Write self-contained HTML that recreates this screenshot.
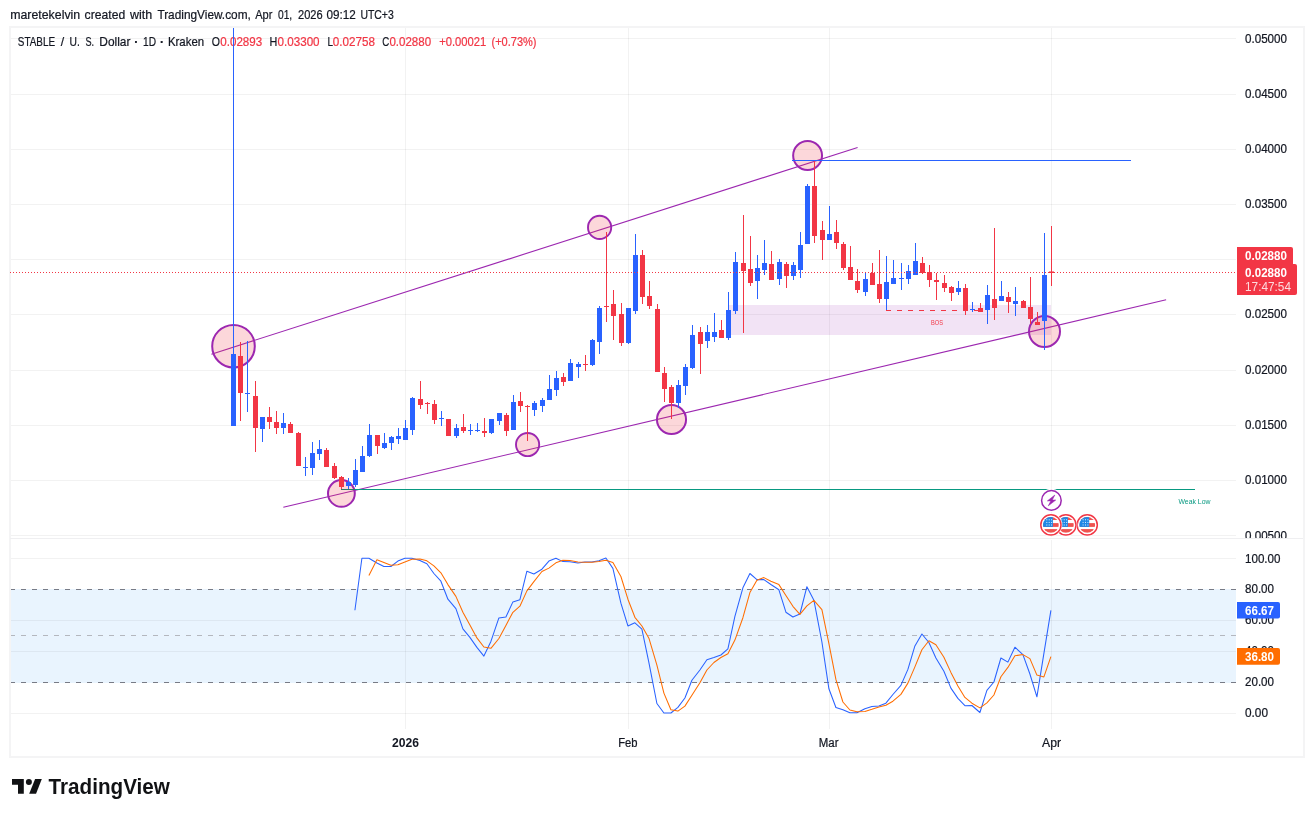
<!DOCTYPE html>
<html lang="en"><head><meta charset="utf-8"><title>STABLE / U. S. Dollar</title>
<style>html,body{margin:0;padding:0;background:#fff}body{width:1314px;height:817px;overflow:hidden;position:relative}svg{position:absolute;left:0;top:0;display:block}text{font-family:'Liberation Sans', Arial, sans-serif;fill:#131722;stroke:#131722;stroke-width:.22px}.ax{font-size:12px}.g{stroke:#000;stroke-opacity:.052;stroke-width:1;shape-rendering:crispEdges}.c{shape-rendering:crispEdges}</style></head><body>
<svg width="1314" height="817" viewBox="0 0 1314 817">
<rect x="0" y="0" width="1314" height="817" fill="#ffffff"/>
<rect class="c" x="10" y="589" width="1226" height="94" fill="#e9f4fe"/>
<line class="g" x1="10" x2="1236" y1="38.5" y2="38.5"/>
<line class="g" x1="10" x2="1236" y1="94.5" y2="94.5"/>
<line class="g" x1="10" x2="1236" y1="149.5" y2="149.5"/>
<line class="g" x1="10" x2="1236" y1="204.5" y2="204.5"/>
<line class="g" x1="10" x2="1236" y1="259.5" y2="259.5"/>
<line class="g" x1="10" x2="1236" y1="314.5" y2="314.5"/>
<line class="g" x1="10" x2="1236" y1="370.5" y2="370.5"/>
<line class="g" x1="10" x2="1236" y1="425.5" y2="425.5"/>
<line class="g" x1="10" x2="1236" y1="480.5" y2="480.5"/>
<line class="g" x1="10" x2="1236" y1="535.5" y2="535.5"/>
<line class="g" x1="405.5" x2="405.5" y1="28" y2="537"/>
<line class="g" x1="405.5" x2="405.5" y1="540" y2="729"/>
<line class="g" x1="628.5" x2="628.5" y1="28" y2="537"/>
<line class="g" x1="628.5" x2="628.5" y1="540" y2="729"/>
<line class="g" x1="829.5" x2="829.5" y1="28" y2="537"/>
<line class="g" x1="829.5" x2="829.5" y1="540" y2="729"/>
<line class="g" x1="1051.5" x2="1051.5" y1="28" y2="537"/>
<line class="g" x1="1051.5" x2="1051.5" y1="540" y2="729"/>
<line class="g" x1="10" x2="1236" y1="558.5" y2="558.5"/>
<line class="g" x1="10" x2="1236" y1="620.5" y2="620.5"/>
<line class="g" x1="10" x2="1236" y1="651.5" y2="651.5"/>
<line class="g" x1="10" x2="1236" y1="713.5" y2="713.5"/>
<line class="c" x1="10" x2="1236" y1="589.5" y2="589.5" stroke="#787b86" stroke-width="1" stroke-dasharray="5 6"/>
<line class="c" x1="10" x2="1236" y1="682.5" y2="682.5" stroke="#787b86" stroke-width="1" stroke-dasharray="5 6"/>
<line class="c" x1="10" x2="1236" y1="635.5" y2="635.5" stroke="#b4b7be" stroke-width="1" stroke-dasharray="5 6"/>
<rect x="10" y="27" width="1294" height="730" fill="none" stroke="#f4f4f5" stroke-width="2"/>
<line class="c" x1="10" x2="1303" y1="538.5" y2="538.5" stroke="#efeff1" stroke-width="1.6"/>
<line x1="211.4" y1="354.15" x2="857.6" y2="147.5" stroke="#9c27b0" stroke-width="1.1"/>
<line x1="283.3" y1="507.3" x2="1166.1" y2="299.8" stroke="#9c27b0" stroke-width="1.1"/>
<rect class="c" x="729" y="305" width="322" height="30" fill="#9c27b0" fill-opacity="0.13"/>
<circle cx="233.5" cy="346.2" r="21.3" fill="#f23645" fill-opacity="0.2" stroke="#9c27b0" stroke-width="2"/>
<circle cx="341.4" cy="493.4" r="13.4" fill="#f23645" fill-opacity="0.2" stroke="#9c27b0" stroke-width="2"/>
<circle cx="527.6" cy="444.55" r="11.6" fill="#f23645" fill-opacity="0.2" stroke="#9c27b0" stroke-width="1.9"/>
<circle cx="599.6" cy="227.4" r="11.6" fill="#f23645" fill-opacity="0.2" stroke="#9c27b0" stroke-width="1.9"/>
<circle cx="671.5" cy="419.5" r="14.55" fill="#f23645" fill-opacity="0.2" stroke="#9c27b0" stroke-width="2"/>
<circle cx="807.6" cy="155.5" r="14.45" fill="#f23645" fill-opacity="0.2" stroke="#9c27b0" stroke-width="2"/>
<circle cx="1044.5" cy="331.5" r="15.5" fill="#f23645" fill-opacity="0.2" stroke="#9c27b0" stroke-width="2"/>
<line class="c" x1="341" x2="1195" y1="489.5" y2="489.5" stroke="#089981" stroke-width="1"/>
<line class="c" x1="341" x2="355" y1="489.5" y2="489.5" stroke="#2b7b66" stroke-width="1"/>
<line class="c" x1="792" x2="1131" y1="160.5" y2="160.5" stroke="#2962ff" stroke-width="1"/>
<line class="c" x1="886" x2="983" y1="310.5" y2="310.5" stroke="#f23645" stroke-width="1" stroke-dasharray="5 6"/>
<text x="931" y="325" style="font-size:6.5px;fill:#f23645;stroke:none" textLength="12" lengthAdjust="spacingAndGlyphs">BOS</text>
<text x="1178.5" y="504" style="font-size:6.5px;fill:#089981;stroke:none" textLength="32" lengthAdjust="spacingAndGlyphs">Weak Low</text>
<text x="10.2" y="18.9" style="font-size:12.6px" textLength="70" lengthAdjust="spacingAndGlyphs">maretekelvin</text>
<text x="84.6" y="18.9" style="font-size:12.6px" textLength="40.6" lengthAdjust="spacingAndGlyphs">created</text>
<text x="130" y="18.9" style="font-size:12.6px" textLength="22.2" lengthAdjust="spacingAndGlyphs">with</text>
<text x="157.4" y="18.9" style="font-size:12.6px" textLength="93.4" lengthAdjust="spacingAndGlyphs">TradingView.com,</text>
<text x="255.2" y="18.9" style="font-size:12.6px" textLength="17.2" lengthAdjust="spacingAndGlyphs">Apr</text>
<text x="278" y="18.9" style="font-size:12.6px" textLength="14.2" lengthAdjust="spacingAndGlyphs">01,</text>
<text x="298" y="18.9" style="font-size:12.6px" textLength="24.6" lengthAdjust="spacingAndGlyphs">2026</text>
<text x="326.5" y="18.9" style="font-size:12.6px" textLength="29.3" lengthAdjust="spacingAndGlyphs">09:12</text>
<text x="360.4" y="18.9" style="font-size:12.6px" textLength="33.4" lengthAdjust="spacingAndGlyphs">UTC+3</text>
<text x="17.8" y="45.9" style="font-size:12.2px" textLength="37.3" lengthAdjust="spacingAndGlyphs">STABLE</text>
<text x="62.5" y="45.9" text-anchor="middle" style="font-size:12.2px">/</text>
<text x="69.5" y="45.9" style="font-size:12.2px" textLength="10.3" lengthAdjust="spacingAndGlyphs">U.</text>
<text x="85.4" y="45.9" style="font-size:12.2px" textLength="8.6" lengthAdjust="spacingAndGlyphs">S.</text>
<text x="99.3" y="45.9" style="font-size:12.2px" textLength="31.1" lengthAdjust="spacingAndGlyphs">Dollar</text>
<text x="136.4" y="45.9" text-anchor="middle" style="font-size:12.2px;font-weight:bold">·</text>
<text x="143" y="45.9" style="font-size:12.2px" textLength="13" lengthAdjust="spacingAndGlyphs">1D</text>
<text x="162" y="45.9" text-anchor="middle" style="font-size:12.2px;font-weight:bold">·</text>
<text x="167.9" y="45.9" style="font-size:12.2px" textLength="36.2" lengthAdjust="spacingAndGlyphs">Kraken</text>
<text x="211.8" y="45.9" style="font-size:12.2px" textLength="8.2" lengthAdjust="spacingAndGlyphs">O</text>
<text x="269.6" y="45.9" style="font-size:12.2px" textLength="7.8" lengthAdjust="spacingAndGlyphs">H</text>
<text x="327.4" y="45.9" style="font-size:12.2px" textLength="5.5" lengthAdjust="spacingAndGlyphs">L</text>
<text x="382.2" y="45.9" style="font-size:12.2px" textLength="7" lengthAdjust="spacingAndGlyphs">C</text>
<text x="220.3" y="45.9" style="font-size:12.2px;fill:#f23645;stroke:#f23645" textLength="41.9" lengthAdjust="spacingAndGlyphs">0.02893</text>
<text x="277.5" y="45.9" style="font-size:12.2px;fill:#f23645;stroke:#f23645" textLength="42.1" lengthAdjust="spacingAndGlyphs">0.03300</text>
<text x="332.8" y="45.9" style="font-size:12.2px;fill:#f23645;stroke:#f23645" textLength="42.1" lengthAdjust="spacingAndGlyphs">0.02758</text>
<text x="389.4" y="45.9" style="font-size:12.2px;fill:#f23645;stroke:#f23645" textLength="41.7" lengthAdjust="spacingAndGlyphs">0.02880</text>
<text x="439.2" y="45.9" style="font-size:12.2px;fill:#f23645;stroke:#f23645" textLength="47.1" lengthAdjust="spacingAndGlyphs">+0.00021</text>
<text x="491.5" y="45.9" style="font-size:12.2px;fill:#f23645;stroke:#f23645" textLength="45" lengthAdjust="spacingAndGlyphs">(+0.73%)</text>
<rect class="c" x="233" y="28" width="1" height="398" fill="#2962ff"/>
<rect class="c" x="231" y="354" width="5" height="72" fill="#2962ff"/>
<rect class="c" x="240" y="342" width="1" height="79" fill="#f23645"/>
<rect class="c" x="238" y="356" width="5" height="37" fill="#f23645"/>
<rect class="c" x="247" y="341" width="1" height="71" fill="#2962ff"/>
<rect class="c" x="245" y="393" width="5" height="1" fill="#2962ff"/>
<rect class="c" x="255" y="381" width="1" height="71" fill="#f23645"/>
<rect class="c" x="253" y="396" width="5" height="32" fill="#f23645"/>
<rect class="c" x="262" y="417" width="1" height="25" fill="#2962ff"/>
<rect class="c" x="260" y="417" width="5" height="12" fill="#2962ff"/>
<rect class="c" x="269" y="407" width="1" height="22" fill="#f23645"/>
<rect class="c" x="267" y="417" width="5" height="5" fill="#f23645"/>
<rect class="c" x="276" y="411" width="1" height="23" fill="#f23645"/>
<rect class="c" x="274" y="422" width="5" height="6" fill="#f23645"/>
<rect class="c" x="283" y="413" width="1" height="21" fill="#2962ff"/>
<rect class="c" x="281" y="423" width="5" height="5" fill="#2962ff"/>
<rect class="c" x="290" y="422" width="1" height="11" fill="#f23645"/>
<rect class="c" x="288" y="424" width="5" height="9" fill="#f23645"/>
<rect class="c" x="298" y="432" width="1" height="34" fill="#f23645"/>
<rect class="c" x="296" y="433" width="5" height="33" fill="#f23645"/>
<rect class="c" x="305" y="457" width="1" height="19" fill="#2962ff"/>
<rect class="c" x="303" y="467" width="5" height="1" fill="#2962ff"/>
<rect class="c" x="312" y="442" width="1" height="33" fill="#2962ff"/>
<rect class="c" x="310" y="453" width="5" height="15" fill="#2962ff"/>
<rect class="c" x="319" y="440" width="1" height="20" fill="#2962ff"/>
<rect class="c" x="317" y="449" width="5" height="5" fill="#2962ff"/>
<rect class="c" x="326" y="448" width="1" height="19" fill="#f23645"/>
<rect class="c" x="324" y="450" width="5" height="17" fill="#f23645"/>
<rect class="c" x="334" y="463" width="1" height="16" fill="#f23645"/>
<rect class="c" x="332" y="466" width="5" height="12" fill="#f23645"/>
<rect class="c" x="341" y="476" width="1" height="13" fill="#f23645"/>
<rect class="c" x="339" y="477" width="5" height="10" fill="#f23645"/>
<rect class="c" x="348" y="478" width="1" height="11" fill="#2962ff"/>
<rect class="c" x="346" y="482" width="5" height="4" fill="#2962ff"/>
<rect class="c" x="355" y="459" width="1" height="28" fill="#2962ff"/>
<rect class="c" x="353" y="470" width="5" height="15" fill="#2962ff"/>
<rect class="c" x="362" y="446" width="1" height="26" fill="#2962ff"/>
<rect class="c" x="360" y="456" width="5" height="16" fill="#2962ff"/>
<rect class="c" x="369" y="424" width="1" height="33" fill="#2962ff"/>
<rect class="c" x="367" y="435" width="5" height="21" fill="#2962ff"/>
<rect class="c" x="377" y="435" width="1" height="19" fill="#f23645"/>
<rect class="c" x="375" y="435" width="5" height="11" fill="#f23645"/>
<rect class="c" x="384" y="433" width="1" height="16" fill="#2962ff"/>
<rect class="c" x="382" y="443" width="5" height="5" fill="#2962ff"/>
<rect class="c" x="391" y="436" width="1" height="14" fill="#2962ff"/>
<rect class="c" x="389" y="437" width="5" height="6" fill="#2962ff"/>
<rect class="c" x="398" y="428" width="1" height="16" fill="#2962ff"/>
<rect class="c" x="396" y="436" width="5" height="3" fill="#2962ff"/>
<rect class="c" x="405" y="420" width="1" height="20" fill="#2962ff"/>
<rect class="c" x="403" y="428" width="5" height="12" fill="#2962ff"/>
<rect class="c" x="412" y="397" width="1" height="38" fill="#2962ff"/>
<rect class="c" x="410" y="398" width="5" height="32" fill="#2962ff"/>
<rect class="c" x="420" y="381" width="1" height="28" fill="#f23645"/>
<rect class="c" x="418" y="399" width="5" height="6" fill="#f23645"/>
<rect class="c" x="427" y="402" width="1" height="12" fill="#f23645"/>
<rect class="c" x="425" y="403" width="5" height="1" fill="#f23645"/>
<rect class="c" x="434" y="400" width="1" height="24" fill="#f23645"/>
<rect class="c" x="432" y="404" width="5" height="16" fill="#f23645"/>
<rect class="c" x="441" y="411" width="1" height="15" fill="#2962ff"/>
<rect class="c" x="439" y="418" width="5" height="1" fill="#2962ff"/>
<rect class="c" x="448" y="419" width="1" height="17" fill="#f23645"/>
<rect class="c" x="446" y="419" width="5" height="17" fill="#f23645"/>
<rect class="c" x="456" y="424" width="1" height="14" fill="#2962ff"/>
<rect class="c" x="454" y="428" width="5" height="8" fill="#2962ff"/>
<rect class="c" x="463" y="414" width="1" height="19" fill="#f23645"/>
<rect class="c" x="461" y="427" width="5" height="4" fill="#f23645"/>
<rect class="c" x="470" y="424" width="1" height="11" fill="#2962ff"/>
<rect class="c" x="468" y="430" width="5" height="1" fill="#2962ff"/>
<rect class="c" x="477" y="423" width="1" height="9" fill="#2962ff"/>
<rect class="c" x="475" y="430" width="5" height="1" fill="#2962ff"/>
<rect class="c" x="484" y="418" width="1" height="19" fill="#f23645"/>
<rect class="c" x="482" y="431" width="5" height="2" fill="#f23645"/>
<rect class="c" x="491" y="419" width="1" height="15" fill="#2962ff"/>
<rect class="c" x="489" y="419" width="5" height="14" fill="#2962ff"/>
<rect class="c" x="499" y="413" width="1" height="12" fill="#2962ff"/>
<rect class="c" x="497" y="413" width="5" height="8" fill="#2962ff"/>
<rect class="c" x="506" y="413" width="1" height="23" fill="#f23645"/>
<rect class="c" x="504" y="415" width="5" height="16" fill="#f23645"/>
<rect class="c" x="513" y="395" width="1" height="35" fill="#2962ff"/>
<rect class="c" x="511" y="402" width="5" height="28" fill="#2962ff"/>
<rect class="c" x="520" y="392" width="1" height="20" fill="#f23645"/>
<rect class="c" x="518" y="401" width="5" height="5" fill="#f23645"/>
<rect class="c" x="527" y="405" width="1" height="36" fill="#f23645"/>
<rect class="c" x="525" y="406" width="5" height="1" fill="#f23645"/>
<rect class="c" x="534" y="401" width="1" height="15" fill="#2962ff"/>
<rect class="c" x="532" y="403" width="5" height="7" fill="#2962ff"/>
<rect class="c" x="542" y="398" width="1" height="14" fill="#2962ff"/>
<rect class="c" x="540" y="400" width="5" height="6" fill="#2962ff"/>
<rect class="c" x="549" y="375" width="1" height="25" fill="#2962ff"/>
<rect class="c" x="547" y="389" width="5" height="11" fill="#2962ff"/>
<rect class="c" x="556" y="371" width="1" height="25" fill="#2962ff"/>
<rect class="c" x="554" y="378" width="5" height="12" fill="#2962ff"/>
<rect class="c" x="563" y="373" width="1" height="13" fill="#f23645"/>
<rect class="c" x="561" y="377" width="5" height="5" fill="#f23645"/>
<rect class="c" x="570" y="359" width="1" height="22" fill="#2962ff"/>
<rect class="c" x="568" y="363" width="5" height="18" fill="#2962ff"/>
<rect class="c" x="578" y="362" width="1" height="16" fill="#2962ff"/>
<rect class="c" x="576" y="364" width="5" height="3" fill="#2962ff"/>
<rect class="c" x="585" y="355" width="1" height="16" fill="#f23645"/>
<rect class="c" x="583" y="364" width="5" height="1" fill="#f23645"/>
<rect class="c" x="592" y="339" width="1" height="27" fill="#2962ff"/>
<rect class="c" x="590" y="340" width="5" height="25" fill="#2962ff"/>
<rect class="c" x="599" y="306" width="1" height="48" fill="#2962ff"/>
<rect class="c" x="597" y="308" width="5" height="34" fill="#2962ff"/>
<rect class="c" x="606" y="232" width="1" height="90" fill="#f23645"/>
<rect class="c" x="604" y="306" width="5" height="1" fill="#f23645"/>
<rect class="c" x="613" y="290" width="1" height="50" fill="#f23645"/>
<rect class="c" x="611" y="304" width="5" height="12" fill="#f23645"/>
<rect class="c" x="621" y="303" width="1" height="43" fill="#f23645"/>
<rect class="c" x="619" y="314" width="5" height="29" fill="#f23645"/>
<rect class="c" x="628" y="308" width="1" height="36" fill="#2962ff"/>
<rect class="c" x="626" y="308" width="5" height="35" fill="#2962ff"/>
<rect class="c" x="635" y="234" width="1" height="80" fill="#2962ff"/>
<rect class="c" x="633" y="255" width="5" height="56" fill="#2962ff"/>
<rect class="c" x="642" y="250" width="1" height="54" fill="#f23645"/>
<rect class="c" x="640" y="255" width="5" height="42" fill="#f23645"/>
<rect class="c" x="649" y="281" width="1" height="28" fill="#f23645"/>
<rect class="c" x="647" y="296" width="5" height="10" fill="#f23645"/>
<rect class="c" x="657" y="304" width="1" height="68" fill="#f23645"/>
<rect class="c" x="655" y="309" width="5" height="63" fill="#f23645"/>
<rect class="c" x="664" y="367" width="1" height="35" fill="#f23645"/>
<rect class="c" x="662" y="373" width="5" height="16" fill="#f23645"/>
<rect class="c" x="671" y="385" width="1" height="34" fill="#f23645"/>
<rect class="c" x="669" y="387" width="5" height="16" fill="#f23645"/>
<rect class="c" x="678" y="380" width="1" height="28" fill="#2962ff"/>
<rect class="c" x="676" y="385" width="5" height="18" fill="#2962ff"/>
<rect class="c" x="685" y="364" width="1" height="31" fill="#2962ff"/>
<rect class="c" x="683" y="367" width="5" height="19" fill="#2962ff"/>
<rect class="c" x="692" y="325" width="1" height="44" fill="#2962ff"/>
<rect class="c" x="690" y="335" width="5" height="33" fill="#2962ff"/>
<rect class="c" x="700" y="327" width="1" height="47" fill="#f23645"/>
<rect class="c" x="698" y="332" width="5" height="12" fill="#f23645"/>
<rect class="c" x="707" y="325" width="1" height="23" fill="#2962ff"/>
<rect class="c" x="705" y="332" width="5" height="9" fill="#2962ff"/>
<rect class="c" x="714" y="313" width="1" height="29" fill="#2962ff"/>
<rect class="c" x="712" y="332" width="5" height="5" fill="#2962ff"/>
<rect class="c" x="721" y="320" width="1" height="18" fill="#f23645"/>
<rect class="c" x="719" y="330" width="5" height="8" fill="#f23645"/>
<rect class="c" x="728" y="292" width="1" height="48" fill="#2962ff"/>
<rect class="c" x="726" y="310" width="5" height="28" fill="#2962ff"/>
<rect class="c" x="735" y="252" width="1" height="62" fill="#2962ff"/>
<rect class="c" x="733" y="262" width="5" height="49" fill="#2962ff"/>
<rect class="c" x="743" y="215" width="1" height="118" fill="#f23645"/>
<rect class="c" x="741" y="263" width="5" height="8" fill="#f23645"/>
<rect class="c" x="750" y="236" width="1" height="50" fill="#f23645"/>
<rect class="c" x="748" y="269" width="5" height="14" fill="#f23645"/>
<rect class="c" x="757" y="255" width="1" height="44" fill="#2962ff"/>
<rect class="c" x="755" y="268" width="5" height="13" fill="#2962ff"/>
<rect class="c" x="764" y="240" width="1" height="35" fill="#2962ff"/>
<rect class="c" x="762" y="263" width="5" height="7" fill="#2962ff"/>
<rect class="c" x="771" y="251" width="1" height="29" fill="#f23645"/>
<rect class="c" x="769" y="264" width="5" height="16" fill="#f23645"/>
<rect class="c" x="779" y="259" width="1" height="26" fill="#2962ff"/>
<rect class="c" x="777" y="262" width="5" height="17" fill="#2962ff"/>
<rect class="c" x="786" y="262" width="1" height="26" fill="#f23645"/>
<rect class="c" x="784" y="264" width="5" height="12" fill="#f23645"/>
<rect class="c" x="793" y="262" width="1" height="18" fill="#2962ff"/>
<rect class="c" x="791" y="265" width="5" height="11" fill="#2962ff"/>
<rect class="c" x="800" y="232" width="1" height="46" fill="#2962ff"/>
<rect class="c" x="798" y="245" width="5" height="25" fill="#2962ff"/>
<rect class="c" x="807" y="184" width="1" height="60" fill="#2962ff"/>
<rect class="c" x="805" y="186" width="5" height="58" fill="#2962ff"/>
<rect class="c" x="814" y="161" width="1" height="82" fill="#f23645"/>
<rect class="c" x="812" y="186" width="5" height="50" fill="#f23645"/>
<rect class="c" x="822" y="221" width="1" height="39" fill="#f23645"/>
<rect class="c" x="820" y="230" width="5" height="10" fill="#f23645"/>
<rect class="c" x="829" y="206" width="1" height="34" fill="#2962ff"/>
<rect class="c" x="827" y="234" width="5" height="6" fill="#2962ff"/>
<rect class="c" x="836" y="220" width="1" height="29" fill="#f23645"/>
<rect class="c" x="834" y="232" width="5" height="11" fill="#f23645"/>
<rect class="c" x="843" y="242" width="1" height="28" fill="#f23645"/>
<rect class="c" x="841" y="244" width="5" height="24" fill="#f23645"/>
<rect class="c" x="850" y="246" width="1" height="34" fill="#f23645"/>
<rect class="c" x="848" y="267" width="5" height="13" fill="#f23645"/>
<rect class="c" x="857" y="269" width="1" height="24" fill="#f23645"/>
<rect class="c" x="855" y="281" width="5" height="9" fill="#f23645"/>
<rect class="c" x="865" y="273" width="1" height="23" fill="#2962ff"/>
<rect class="c" x="863" y="279" width="5" height="13" fill="#2962ff"/>
<rect class="c" x="872" y="263" width="1" height="22" fill="#f23645"/>
<rect class="c" x="870" y="273" width="5" height="12" fill="#f23645"/>
<rect class="c" x="879" y="250" width="1" height="53" fill="#f23645"/>
<rect class="c" x="877" y="284" width="5" height="15" fill="#f23645"/>
<rect class="c" x="886" y="256" width="1" height="54" fill="#2962ff"/>
<rect class="c" x="884" y="282" width="5" height="17" fill="#2962ff"/>
<rect class="c" x="893" y="260" width="1" height="24" fill="#2962ff"/>
<rect class="c" x="891" y="278" width="5" height="6" fill="#2962ff"/>
<rect class="c" x="901" y="263" width="1" height="27" fill="#2962ff"/>
<rect class="c" x="899" y="278" width="5" height="1" fill="#2962ff"/>
<rect class="c" x="908" y="265" width="1" height="19" fill="#2962ff"/>
<rect class="c" x="906" y="271" width="5" height="8" fill="#2962ff"/>
<rect class="c" x="915" y="243" width="1" height="32" fill="#2962ff"/>
<rect class="c" x="913" y="261" width="5" height="14" fill="#2962ff"/>
<rect class="c" x="922" y="257" width="1" height="17" fill="#f23645"/>
<rect class="c" x="920" y="263" width="5" height="10" fill="#f23645"/>
<rect class="c" x="929" y="265" width="1" height="22" fill="#f23645"/>
<rect class="c" x="927" y="272" width="5" height="8" fill="#f23645"/>
<rect class="c" x="936" y="273" width="1" height="27" fill="#f23645"/>
<rect class="c" x="934" y="280" width="5" height="2" fill="#f23645"/>
<rect class="c" x="944" y="275" width="1" height="17" fill="#f23645"/>
<rect class="c" x="942" y="283" width="5" height="5" fill="#f23645"/>
<rect class="c" x="951" y="286" width="1" height="15" fill="#f23645"/>
<rect class="c" x="949" y="287" width="5" height="6" fill="#f23645"/>
<rect class="c" x="958" y="281" width="1" height="14" fill="#2962ff"/>
<rect class="c" x="956" y="288" width="5" height="4" fill="#2962ff"/>
<rect class="c" x="965" y="284" width="1" height="31" fill="#f23645"/>
<rect class="c" x="963" y="288" width="5" height="23" fill="#f23645"/>
<rect class="c" x="972" y="302" width="1" height="10" fill="#2962ff"/>
<rect class="c" x="970" y="309" width="5" height="1" fill="#2962ff"/>
<rect class="c" x="980" y="303" width="1" height="9" fill="#f23645"/>
<rect class="c" x="978" y="308" width="5" height="4" fill="#f23645"/>
<rect class="c" x="987" y="285" width="1" height="39" fill="#2962ff"/>
<rect class="c" x="985" y="295" width="5" height="15" fill="#2962ff"/>
<rect class="c" x="994" y="228" width="1" height="92" fill="#f23645"/>
<rect class="c" x="992" y="299" width="5" height="9" fill="#f23645"/>
<rect class="c" x="1001" y="281" width="1" height="20" fill="#2962ff"/>
<rect class="c" x="999" y="296" width="5" height="5" fill="#2962ff"/>
<rect class="c" x="1008" y="292" width="1" height="21" fill="#f23645"/>
<rect class="c" x="1006" y="297" width="5" height="5" fill="#f23645"/>
<rect class="c" x="1015" y="287" width="1" height="29" fill="#2962ff"/>
<rect class="c" x="1013" y="301" width="5" height="3" fill="#2962ff"/>
<rect class="c" x="1023" y="300" width="1" height="8" fill="#f23645"/>
<rect class="c" x="1021" y="301" width="5" height="7" fill="#f23645"/>
<rect class="c" x="1030" y="277" width="1" height="47" fill="#f23645"/>
<rect class="c" x="1028" y="307" width="5" height="12" fill="#f23645"/>
<rect class="c" x="1037" y="312" width="1" height="13" fill="#f23645"/>
<rect class="c" x="1035" y="322" width="5" height="3" fill="#f23645"/>
<rect class="c" x="1044" y="233" width="1" height="117" fill="#2962ff"/>
<rect class="c" x="1042" y="275" width="5" height="46" fill="#2962ff"/>
<rect class="c" x="1051" y="226" width="1" height="60" fill="#f23645"/>
<rect class="c" x="1049" y="272" width="5" height="1" fill="#f23645"/>
<rect class="c" x="1049" y="271" width="5" height="1" fill="#f23645" fill-opacity=".55"/>
<line class="c" x1="10" x2="1236" y1="272.5" y2="272.5" stroke="#f23645" stroke-width="1" stroke-dasharray="1 2"/>
<polyline points="354.9,610.2 361.9,558.2 368.9,558.2 376.9,563.0 383.9,566.5 390.9,566.5 397.9,561.1 404.9,558.2 411.9,558.2 419.9,560.6 426.9,563.7 433.9,573.5 440.9,581.2 447.9,599.2 455.9,608.7 462.9,628.9 469.9,637.4 476.9,647.4 483.9,656.1 490.9,641.4 498.9,617.9 505.9,617.0 512.9,601.9 519.9,599.7 526.9,571.2 533.9,574.0 541.9,569.2 548.9,561.1 555.9,558.2 562.9,561.6 569.9,561.7 577.9,562.9 584.9,562.0 591.9,562.0 598.9,560.7 605.9,558.0 612.9,568.4 620.9,603.2 627.9,625.9 634.9,622.8 641.9,629.2 648.9,662.7 656.9,703.5 663.9,713.0 670.9,713.0 677.9,707.4 684.9,698.0 691.9,680.3 699.9,670.0 706.9,659.8 713.9,657.6 720.9,655.0 727.9,648.8 734.9,616.4 742.9,587.8 749.9,573.5 756.9,579.6 763.9,579.6 770.9,584.5 778.9,589.8 785.9,612.2 792.9,617.0 799.9,614.0 806.9,586.7 813.9,600.2 821.9,642.0 828.9,688.8 835.9,707.5 842.9,709.8 849.9,712.8 856.9,712.8 864.9,708.7 871.9,706.4 878.9,705.9 885.9,703.2 892.9,694.5 900.9,685.4 907.9,669.4 914.9,645.9 921.9,634.0 928.9,642.5 935.9,658.0 943.9,671.2 950.9,688.1 957.9,698.4 964.9,705.7 971.9,705.5 979.9,712.5 986.9,690.4 993.9,682.0 1000.9,658.0 1007.9,662.1 1014.9,647.2 1022.9,654.6 1029.9,674.0 1036.9,696.8 1043.9,653.4 1050.9,610.4" fill="none" stroke="#2962ff" stroke-width="1.05" stroke-linejoin="round"/>
<polyline points="368.9,575.5 376.9,559.8 383.9,562.6 390.9,565.3 397.9,564.7 404.9,561.9 411.9,559.2 419.9,559.0 426.9,560.8 433.9,565.9 440.9,572.8 447.9,584.6 455.9,596.4 462.9,612.3 469.9,625.0 476.9,637.9 483.9,647.0 490.9,648.3 498.9,638.5 505.9,625.4 512.9,612.3 519.9,606.2 526.9,590.9 533.9,581.6 541.9,571.5 548.9,568.1 555.9,562.8 562.9,560.3 569.9,560.5 577.9,562.1 584.9,562.2 591.9,562.3 598.9,561.6 605.9,560.2 612.9,562.4 620.9,576.5 627.9,599.2 634.9,617.3 641.9,626.0 648.9,638.2 656.9,665.1 663.9,693.1 670.9,709.8 677.9,711.1 684.9,706.1 691.9,695.2 699.9,682.8 706.9,670.0 713.9,662.5 720.9,657.5 727.9,653.8 734.9,640.1 742.9,617.7 749.9,592.6 756.9,580.3 763.9,577.6 770.9,581.2 778.9,584.6 785.9,595.5 792.9,606.3 799.9,614.4 806.9,605.9 813.9,600.3 821.9,609.6 828.9,643.7 835.9,679.4 842.9,702.0 849.9,710.0 856.9,711.8 864.9,711.4 871.9,709.3 878.9,707.0 885.9,705.2 892.9,701.2 900.9,694.4 907.9,683.1 914.9,666.9 921.9,649.8 928.9,640.8 935.9,644.8 943.9,657.2 950.9,672.4 957.9,685.9 964.9,697.4 971.9,703.2 979.9,707.9 986.9,702.8 993.9,695.0 1000.9,676.8 1007.9,667.4 1014.9,655.8 1022.9,654.6 1029.9,658.6 1036.9,675.1 1043.9,676.9 1050.9,656.7" fill="none" stroke="#ff6d00" stroke-width="1.05" stroke-linejoin="round"/>
<circle cx="1051.4" cy="500.4" r="11.6" fill="#fff"/>
<circle cx="1051.4" cy="500.4" r="9.8" fill="#fff" stroke="#9c27b0" stroke-width="1.5"/>
<path d="M1054.8 495.1L1047.4 500.9H1050.9L1048.3 505.8L1055.7 500.1H1052.2Z" fill="#9c27b0" stroke="#9c27b0" stroke-width=".6" stroke-linejoin="round"/>
<defs><clipPath id="fc"><circle cx="0" cy="0" r="7.9"/></clipPath></defs>
<g transform="translate(1087.2 524.9)">
<circle r="11.4" fill="#fff"/>
<circle r="10.1" fill="#fff" stroke="#f23645" stroke-width="1.5"/>
<g clip-path="url(#fc)">
<rect x="-8" y="-8" width="16" height="16" fill="#fff"/>
<rect x="-8" y="-8" width="16" height="3.1" fill="#ef5350"/>
<rect x="-8" y="-1.8" width="16" height="3.8" fill="#ef5350"/>
<rect x="-8" y="4.2" width="16" height="3.8" fill="#ef5350"/>
<rect x="-8" y="-8" width="10" height="10" fill="#1e88e5"/>
<rect x="-4.6" y="-5.6" width="1" height="1" fill="#fff" fill-opacity="0.9"/>
<rect x="-2.2" y="-5.6" width="1" height="1" fill="#fff" fill-opacity="0.9"/>
<rect x="0.2" y="-5.6" width="1" height="1" fill="#fff" fill-opacity="0.9"/>
<rect x="-4.6" y="-3" width="1" height="1" fill="#fff" fill-opacity="0.9"/>
<rect x="-2.2" y="-3" width="1" height="1" fill="#fff" fill-opacity="0.9"/>
<rect x="0.2" y="-3" width="1" height="1" fill="#fff" fill-opacity="0.9"/>
<rect x="-4.6" y="-0.4" width="1" height="1" fill="#fff" fill-opacity="0.9"/>
<rect x="-2.2" y="-0.4" width="1" height="1" fill="#fff" fill-opacity="0.9"/>
<rect x="0.2" y="-0.4" width="1" height="1" fill="#fff" fill-opacity="0.9"/>
</g></g>
<g transform="translate(1065.9 524.9)">
<circle r="11.4" fill="#fff"/>
<circle r="10.1" fill="#fff" stroke="#f23645" stroke-width="1.5"/>
<g clip-path="url(#fc)">
<rect x="-8" y="-8" width="16" height="16" fill="#fff"/>
<rect x="-8" y="-8" width="16" height="3.1" fill="#ef5350"/>
<rect x="-8" y="-1.8" width="16" height="3.8" fill="#ef5350"/>
<rect x="-8" y="4.2" width="16" height="3.8" fill="#ef5350"/>
<rect x="-8" y="-8" width="10" height="10" fill="#1e88e5"/>
<rect x="-4.6" y="-5.6" width="1" height="1" fill="#fff" fill-opacity="0.9"/>
<rect x="-2.2" y="-5.6" width="1" height="1" fill="#fff" fill-opacity="0.9"/>
<rect x="0.2" y="-5.6" width="1" height="1" fill="#fff" fill-opacity="0.9"/>
<rect x="-4.6" y="-3" width="1" height="1" fill="#fff" fill-opacity="0.9"/>
<rect x="-2.2" y="-3" width="1" height="1" fill="#fff" fill-opacity="0.9"/>
<rect x="0.2" y="-3" width="1" height="1" fill="#fff" fill-opacity="0.9"/>
<rect x="-4.6" y="-0.4" width="1" height="1" fill="#fff" fill-opacity="0.9"/>
<rect x="-2.2" y="-0.4" width="1" height="1" fill="#fff" fill-opacity="0.9"/>
<rect x="0.2" y="-0.4" width="1" height="1" fill="#fff" fill-opacity="0.9"/>
</g></g>
<g transform="translate(1050.9 524.9)">
<circle r="11.4" fill="#fff"/>
<circle r="10.1" fill="#fff" stroke="#f23645" stroke-width="1.5"/>
<g clip-path="url(#fc)">
<rect x="-8" y="-8" width="16" height="16" fill="#fff"/>
<rect x="-8" y="-8" width="16" height="3.1" fill="#ef5350"/>
<rect x="-8" y="-1.8" width="16" height="3.8" fill="#ef5350"/>
<rect x="-8" y="4.2" width="16" height="3.8" fill="#ef5350"/>
<rect x="-8" y="-8" width="10" height="10" fill="#1e88e5"/>
<rect x="-4.6" y="-5.6" width="1" height="1" fill="#fff" fill-opacity="0.9"/>
<rect x="-2.2" y="-5.6" width="1" height="1" fill="#fff" fill-opacity="0.9"/>
<rect x="0.2" y="-5.6" width="1" height="1" fill="#fff" fill-opacity="0.9"/>
<rect x="-4.6" y="-3" width="1" height="1" fill="#fff" fill-opacity="0.9"/>
<rect x="-2.2" y="-3" width="1" height="1" fill="#fff" fill-opacity="0.9"/>
<rect x="0.2" y="-3" width="1" height="1" fill="#fff" fill-opacity="0.9"/>
<rect x="-4.6" y="-0.4" width="1" height="1" fill="#fff" fill-opacity="0.9"/>
<rect x="-2.2" y="-0.4" width="1" height="1" fill="#fff" fill-opacity="0.9"/>
<rect x="0.2" y="-0.4" width="1" height="1" fill="#fff" fill-opacity="0.9"/>
</g></g>
<rect x="1237" y="28" width="66" height="510" fill="#fff"/>
<rect x="1237" y="540" width="66" height="188" fill="#fff"/>
<text class="ax" x="1245" y="42.7" textLength="42" lengthAdjust="spacingAndGlyphs">0.05000</text>
<text class="ax" x="1245" y="97.7" textLength="42" lengthAdjust="spacingAndGlyphs">0.04500</text>
<text class="ax" x="1245" y="152.7" textLength="42" lengthAdjust="spacingAndGlyphs">0.04000</text>
<text class="ax" x="1245" y="207.7" textLength="42" lengthAdjust="spacingAndGlyphs">0.03500</text>
<text class="ax" x="1245" y="262.7" textLength="42" lengthAdjust="spacingAndGlyphs">0.03000</text>
<text class="ax" x="1245" y="318.4" textLength="42" lengthAdjust="spacingAndGlyphs">0.02500</text>
<text class="ax" x="1245" y="373.7" textLength="42" lengthAdjust="spacingAndGlyphs">0.02000</text>
<text class="ax" x="1245" y="428.7" textLength="42" lengthAdjust="spacingAndGlyphs">0.01500</text>
<text class="ax" x="1245" y="483.7" textLength="42" lengthAdjust="spacingAndGlyphs">0.01000</text>
<svg x="1237" y="520" width="66" height="18" overflow="hidden"><text class="ax" x="8" y="19.5" textLength="42" lengthAdjust="spacingAndGlyphs">0.00500</text></svg>
<text class="ax" x="1245" y="562.8" textLength="35.5" lengthAdjust="spacingAndGlyphs">100.00</text>
<text class="ax" x="1245" y="593" textLength="29" lengthAdjust="spacingAndGlyphs">80.00</text>
<text class="ax" x="1245" y="624" textLength="29" lengthAdjust="spacingAndGlyphs">60.00</text>
<text class="ax" x="1245" y="654.8" textLength="29" lengthAdjust="spacingAndGlyphs">40.00</text>
<text class="ax" x="1245" y="685.7" textLength="29" lengthAdjust="spacingAndGlyphs">20.00</text>
<text class="ax" x="1245" y="716.8" textLength="23" lengthAdjust="spacingAndGlyphs">0.00</text>
<path d="M1237 247h54a2 2 0 0 1 2 2v15h-56z" fill="#f23645"/>
<path d="M1237 264h58a2 2 0 0 1 2 2v27a2 2 0 0 1-2 2h-58z" fill="#f23645"/>
<text class="ax" x="1245" y="259.6" style="fill:#fff;stroke:none;font-weight:bold" textLength="42" lengthAdjust="spacingAndGlyphs">0.02880</text>
<text class="ax" x="1245" y="277" style="fill:#fff;stroke:none;font-weight:bold" textLength="42" lengthAdjust="spacingAndGlyphs">0.02880</text>
<text class="ax" x="1245" y="290.6" style="fill:#fff;stroke:none;fill-opacity:.82" textLength="46" lengthAdjust="spacingAndGlyphs">17:47:54</text>
<path d="M1237 602h41a2 2 0 0 1 2 2v12.500a2 2 0 0 1-2 2h-41z" fill="#2962ff"/>
<text class="ax" x="1245" y="614.8" style="fill:#fff;stroke:none;font-weight:bold" textLength="29" lengthAdjust="spacingAndGlyphs">66.67</text>
<path d="M1237 648h41a2 2 0 0 1 2 2v12.800a2 2 0 0 1-2 2h-41z" fill="#ff6d00"/>
<text class="ax" x="1245" y="660.8" style="fill:#fff;stroke:none;font-weight:bold" textLength="29" lengthAdjust="spacingAndGlyphs">36.80</text>
<text class="ax" x="405.5" y="747" text-anchor="middle" style="font-weight:bold;stroke:none" textLength="27" lengthAdjust="spacingAndGlyphs">2026</text>
<text class="ax" x="627.9" y="747" text-anchor="middle" textLength="19.3" lengthAdjust="spacingAndGlyphs">Feb</text>
<text class="ax" x="828.7" y="747" text-anchor="middle" textLength="19.7" lengthAdjust="spacingAndGlyphs">Mar</text>
<text class="ax" x="1051.5" y="747" text-anchor="middle" textLength="19" lengthAdjust="spacingAndGlyphs">Apr</text>
<g fill="#111214">
<path d="M12 779.100h11.800v14.600h-5.800v-8.900h-6z"/>
<circle cx="28.900" cy="782" r="3"/>
<path d="M35.100 779.100h6.700l-5.750 14.600h-6.850z"/>
</g>
<text x="48.600" y="793.700" style="font-size:21.500px;font-weight:bold;fill:#111214;stroke:none" textLength="121.200" lengthAdjust="spacingAndGlyphs">TradingView</text>
</svg></body></html>
